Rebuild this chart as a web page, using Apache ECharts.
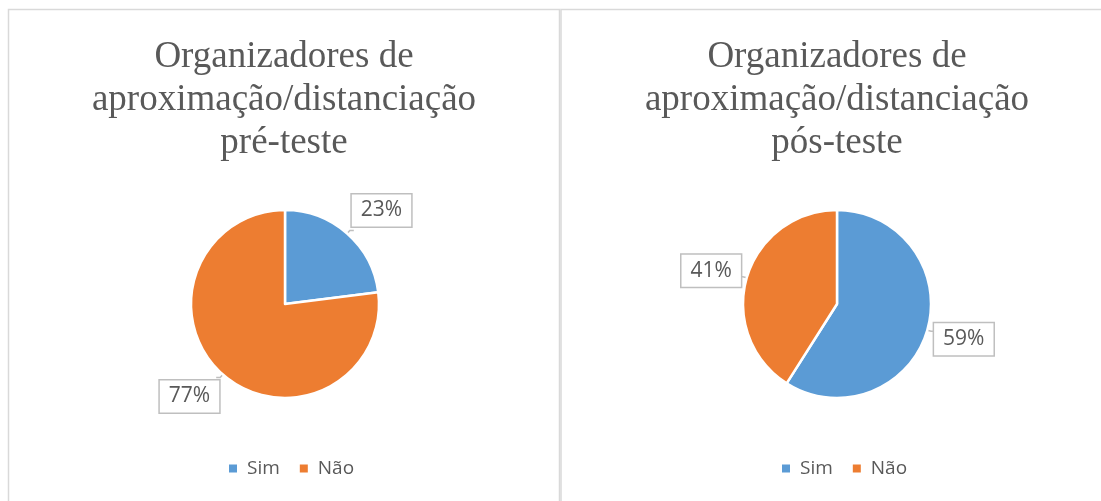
<!DOCTYPE html>
<html>
<head>
<meta charset="utf-8">
<script src="https://cdn.jsdelivr.net/npm/echarts@6/dist/echarts.min.js"></script>
<style>html,body{margin:0;padding:0;background:#fff;}#c{width:1101px;height:501px;}</style>
</head>
<body>
<div id="c"></div>
<script>
const categories = ['Sim', 'Não'];
const preValues = [23, 77];
const posValues = [59, 41];
const preTitle = 'Organizadores de\naproximação/distanciação\npré-teste';
const posTitle = 'Organizadores de\naproximação/distanciação\npós-teste';

const colors = ['#5B9BD5', '#ED7D31'];
const textColor = '#595959';

function pieData(vals) {
  return categories.map((c, i) => ({ name: c, value: vals[i], itemStyle: { color: colors[i] } }));
}

const labelStyle = {
  show: true,
  position: 'outside',
  formatter: p => p.value + '%',
  fontFamily: 'Open Sans',
  fontSize: 21,
  color: textColor,
  backgroundColor: '#fff',
  borderColor: '#BFBFBF',
  borderWidth: 1.5,
  padding: [6, 9, 5, 9],
  distanceToLabelLine: 0
};
const lineStyle = { show: true, length: 4, length2: 4, lineStyle: { color: '#BFBFBF', width: 1.5 } };

const preOffsets = [[-2, -20], [3, 19]];
const posOffsets = [[-1, 8], [2, -6]];

const titleText = { fontFamily: 'Liberation Serif', fontSize: 37, fontWeight: 'normal', color: textColor, lineHeight: 43 };
const legendText = { fontFamily: 'Open Sans', fontSize: 19, color: textColor, padding: [0, 0, 0, 4] };

const chart = echarts.init(document.getElementById('c'), null, { renderer: 'canvas' });
chart.setOption({
  backgroundColor: '#fff',
  animation: false,
  graphic: [
    { type: 'rect', shape: { x: 8.5, y: 9.5, width: 551, height: 520 }, style: { fill: 'none', stroke: '#D9D9D9', lineWidth: 1.5 }, silent: true },
    { type: 'rect', shape: { x: 561, y: 9.5, width: 560, height: 520 }, style: { fill: 'none', stroke: '#D9D9D9', lineWidth: 1.5 }, silent: true }
  ],
  title: [
    { text: preTitle, left: 284, top: 36, padding: 0, textAlign: 'center', textStyle: titleText },
    { text: posTitle, left: 837, top: 36, padding: 0, textAlign: 'center', textStyle: titleText }
  ],
  legend: [
    { data: categories, left: 227, top: 459, padding: 0, icon: 'rect', itemWidth: 10, itemHeight: 10, itemGap: 18,
      textStyle: legendText, selectedMode: false },
    { data: categories, left: 780, top: 459, padding: 0, icon: 'rect', itemWidth: 10, itemHeight: 10, itemGap: 18,
      textStyle: legendText, selectedMode: false }
  ],
  series: [
    { type: 'pie', center: [285, 304], radius: 94, startAngle: 90, clockwise: true,
      itemStyle: { borderColor: '#fff', borderWidth: 2.5 },
      label: labelStyle, labelLine: lineStyle,
      labelLayout: p => ({ dx: preOffsets[p.dataIndex][0], dy: preOffsets[p.dataIndex][1] }),
      emphasis: { disabled: true },
      data: pieData(preValues) },
    { type: 'pie', center: [837, 304], radius: 94, startAngle: 90, clockwise: true,
      itemStyle: { borderColor: '#fff', borderWidth: 2.5 },
      label: labelStyle, labelLine: lineStyle,
      labelLayout: p => ({ dx: posOffsets[p.dataIndex][0], dy: posOffsets[p.dataIndex][1] }),
      emphasis: { disabled: true },
      data: pieData(posValues) }
  ]
});
</script>
</body>
</html>
